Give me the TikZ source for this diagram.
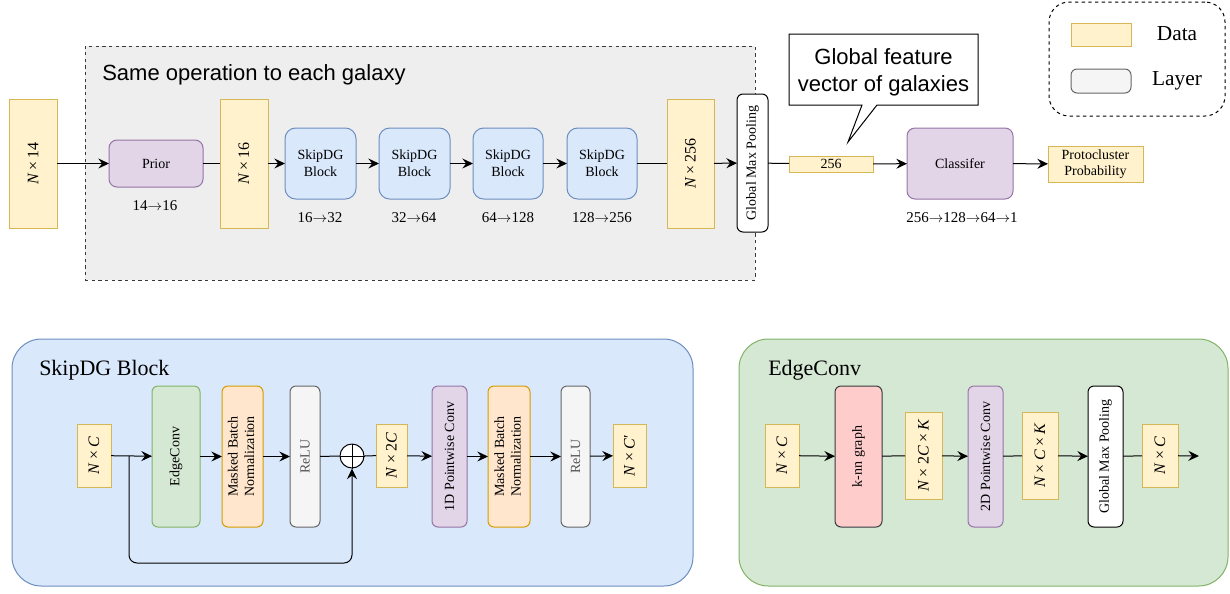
\documentclass[tikz,border=0pt]{standalone}
\usepackage{fontspec}
\setmainfont{Liberation Serif}
\newfontfamily\hv{Liberation Sans}
\usetikzlibrary{arrows.meta}
\definecolor{dataF}{HTML}{FFF2CC}\definecolor{dataD}{HTML}{D6B656}
\definecolor{purF}{HTML}{E1D5E7}\definecolor{purD}{HTML}{9673A6}
\definecolor{bluF}{HTML}{DAE8FC}\definecolor{bluD}{HTML}{6C8EBF}
\definecolor{grnF}{HTML}{D5E8D4}\definecolor{grnD}{HTML}{82B366}
\definecolor{orgF}{HTML}{FFE6CC}\definecolor{orgD}{HTML}{D79B00}
\definecolor{gryF}{HTML}{F5F5F5}\definecolor{gryD}{HTML}{666666}
\definecolor{redF}{HTML}{FFCCCC}\definecolor{drk}{HTML}{36393D}
\definecolor{grpF}{HTML}{EEEEEE}\definecolor{reluT}{HTML}{555555}
\newcommand\bx[7]{\node[#2, minimum width={(#5-#3)*0.75pt}, minimum height={(#6-#4)*0.75pt}] (#1) at ({(#3+#5)/2},{(#4+#6)/2}) {#7};}
\newcommand\rot[1]{\rotatebox{90}{#1}}
\newcommand\rott[2]{\rotatebox{90}{\begin{tabular}{@{}c@{}}#1\\#2\end{tabular}}}
\newcommand\mul{\hspace{0.2em}×\hspace{0.2em}}
\newcommand\ar{$\to$}
\tikzset{
  base/.style={draw, line width=0.75pt, inner sep=0pt, outer sep=0pt, align=center, font=\fontsize{10.5}{12.5}\selectfont},
  data/.style={base, fill=dataF, draw=dataD, font=\fontsize{12}{14}\selectfont},
  datas/.style={base, fill=dataF, draw=dataD},
  purp/.style={base, rounded corners=6pt, fill=purF, draw=purD},
  purpb/.style={base, rounded corners=4.5pt, fill=purF, draw=purD},
  skipbox/.style={base, rounded corners=8pt, fill=bluF, draw=bluD},
  layerw/.style={base, rounded corners=4.5pt, fill=white, draw=black},
  grnbox/.style={base, rounded corners=4.5pt, fill=grnF, draw=grnD},
  orgbox/.style={base, rounded corners=4.5pt, fill=orgF, draw=orgD},
  grybox/.style={base, rounded corners=4.5pt, fill=gryF, draw=gryD, text=reluT},
  knnbox/.style={base, rounded corners=4.5pt, fill=redF, draw=drk},
  grpbox/.style={base, fill=grpF, draw=drk, dash pattern=on 2.5pt off 2.5pt},
  skipc/.style={base, rounded corners=22pt, fill=bluF, draw=bluD},
  edgec/.style={base, rounded corners=22pt, fill=grnF, draw=grnD},
  legbox/.style={base, rounded corners=15pt, draw=black, dash pattern=on 2.5pt off 2.5pt},
  head/.style={anchor=west, inner sep=0pt, font=\fontsize{16.5}{20}\selectfont},
  lbl/.style={inner sep=0pt, font=\fontsize{11.25}{13}\selectfont},
  arr/.style={line width=0.75pt, -{Stealth[length=8pt,width=7.5pt,inset=2.8pt]}},
  ln/.style={line width=0.75pt},
}
\begin{document}
\begin{tikzpicture}[x=0.75pt,y=-0.75pt]
\useasboundingbox (0,0) rectangle (1230,593);
% ---------- top group ----------
\bx{grp}{grpbox}{85}{46}{755}{280}{}
\node[head, font=\hv\fontsize{16.5}{20}\selectfont] (grpt) at (102,75) {Same operation to each galaxy};
\bx{n14}{data}{9}{99}{57}{228}{\rot{\textit{N}\mul 14}}
\bx{prior}{purp}{109}{140}{203}{187}{Prior}
\bx{n16}{data}{220}{99}{268}{228}{\rot{\textit{N}\mul 16}}
\bx{s1}{skipbox}{285}{128}{356}{199}{SkipDG\\Block}
\bx{s2}{skipbox}{379}{128}{450}{199}{SkipDG\\Block}
\bx{s3}{skipbox}{473}{128}{543}{199}{SkipDG\\Block}
\bx{s4}{skipbox}{567}{128}{637}{199}{SkipDG\\Block}
\bx{n256}{data}{667}{99}{714}{228}{\rot{\textit{N}\mul 256}}
\bx{gmp}{layerw}{737}{94}{768}{232}{\rot{Global Max Pooling}}
\bx{v256}{datas}{789}{156}{873}{172}{256}
\bx{cls}{purp}{907}{128}{1013}{199}{Classifer}
\bx{prob}{datas}{1048}{146}{1143}{182}{Protocluster\\Probability}
\node[lbl] (l0) at (155,206) {14\ar16};
\node[lbl] (l1) at (320,218) {16\ar32};
\node[lbl] (l2) at (414,218) {32\ar64};
\node[lbl] (l3) at (508,218) {64\ar128};
\node[lbl] (l4) at (602,218) {128\ar256};
\node[lbl] (l5) at (962,218) {256\ar128\ar64\ar1};
\draw[arr] (n14) -- (prior);
\draw[ln] (prior) -- (n16);
\draw[arr] (n16) -- (s1);
\draw[arr] (s1) -- (s2);
\draw[arr] (s2) -- (s3);
\draw[arr] (s3) -- (s4);
\draw[ln] (s4) -- (n256);
\draw[arr] (n256) -- (gmp);
\draw[ln] (gmp) -- (v256);
\draw[arr] (v256) -- (cls);
\draw[arr] (cls) -- (prob);
% callout
\draw[ln, fill=white] (789,34) -- (978,34) -- (978,105) -- (877,105) -- (848,142) -- (862,105) -- (789,105) -- cycle;
\node[inner sep=0pt, align=center, font=\hv\fontsize{16.5}{20}\selectfont] (callt) at (883.5,72) {Global feature\\vector of galaxies};
% legend
\bx{leg}{legbox}{1049}{2}{1225}{116}{}
\bx{lgd}{datas}{1071}{23}{1131}{46}{}
\bx{lgl}{grybox}{1071}{69}{1131}{93}{}
\node[inner sep=0pt, font=\fontsize{16}{19}\selectfont] (lgdt) at (1177,34) {Data};
\node[inner sep=0pt, font=\fontsize{16}{19}\selectfont] (lglt) at (1177,81) {Layer};
% ---------- SkipDG block ----------
\bx{sdg}{skipc}{12}{339}{693}{586}{}
\node[head] (sdgt) at (39,370) {SkipDG Block};
\bx{bnc}{data}{77}{424}{111}{487}{\rot{\textit{N}\mul\textit{C}}}
\bx{ec}{grnbox}{152}{386}{200}{527}{\rot{EdgeConv}}
\bx{mbn}{orgbox}{222}{386}{263}{527}{\rott{Masked Batch}{Normalization}}
\bx{relu}{grybox}{290}{386}{320}{527}{\rot{ReLU}}
\node[circle, draw, line width=0.75pt, fill=white, inner sep=0pt, minimum size=18pt] (plus) at (352,456) {};
\draw[ln] (plus.north) -- (plus.south) (plus.west) -- (plus.east);
\bx{n2c}{data}{376}{424}{407}{487}{\rot{\textit{N}\mul 2\textit{C}}}
\bx{pw1}{purpb}{432}{386}{467}{527}{\rot{1D Pointwise Conv}}
\bx{mbn2}{orgbox}{488}{386}{530}{527}{\rott{Masked Batch}{Normalization}}
\bx{relu2}{grybox}{561}{386}{590}{527}{\rot{ReLU}}
\bx{ncp}{data}{613}{424}{646}{487}{\rot{\textit{N}\mul\textit{C}′}}
\coordinate (sk) at (129,456);
\draw[arr] (bnc) -- (ec);
\draw[arr] (ec) -- (mbn);
\draw[arr] (mbn) -- (relu);
\draw[ln] (relu) -- (plus);
\draw[ln] (plus) -- (n2c);
\draw[arr] (n2c) -- (pw1);
\draw[arr] (pw1) -- (mbn2);
\draw[arr] (mbn2) -- (relu2);
\draw[arr] (relu2) -- (ncp);
\draw[arr, rounded corners=6pt] (sk) -- ++(0,107) -| (plus.south);
% ---------- EdgeConv ----------
\bx{ecc}{edgec}{739}{339}{1228}{586}{}
\node[head] (ecct) at (768,370) {EdgeConv};
\bx{enc}{data}{765}{424}{799}{487}{\rot{\textit{N}\mul\textit{C}}}
\bx{knn}{knnbox}{835}{386}{882}{527}{\rot{k-nn graph}}
\bx{n2ck}{data}{905}{412}{942}{499}{\rot{\textit{N}\mul 2\textit{C}\mul\textit{K}}}
\bx{pw2}{purpb}{968}{386}{1003}{527}{\rot{2D Pointwise Conv}}
\bx{nck}{data}{1022}{412}{1058}{499}{\rot{\textit{N}\mul\textit{C}\mul\textit{K}}}
\bx{gmp2}{layerw}{1088}{386}{1123}{527}{\rot{Global Max Pooling}}
\bx{enc2}{data}{1142}{424}{1178}{487}{\rot{\textit{N}\mul\textit{C}}}
\coordinate (eout) at (1199,456);
\draw[arr] (enc) -- (knn);
\draw[ln] (knn) -- (n2ck);
\draw[arr] (n2ck) -- (pw2);
\draw[ln] (pw2) -- (nck);
\draw[arr] (nck) -- (gmp2);
\draw[ln] (gmp2) -- (enc2);
\draw[arr] (enc2) -- (eout);
\end{tikzpicture}
\end{document}
